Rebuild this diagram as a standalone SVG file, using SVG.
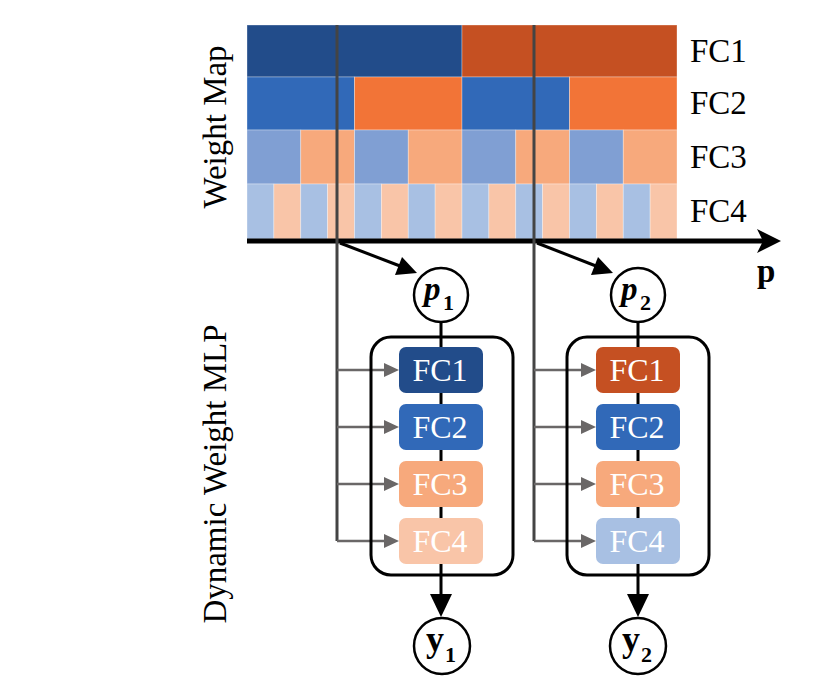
<svg xmlns="http://www.w3.org/2000/svg" width="818" height="687" viewBox="0 0 818 687">
<style>
.lbl{font-family:"Liberation Serif","Times New Roman",serif;fill:#000}
.fc{font-family:"Liberation Serif","Times New Roman",serif;fill:#fff;font-size:32px;text-anchor:middle}
.cell{stroke:#fff;stroke-opacity:0.4;stroke-width:0.8}
.b1{fill:#224C8A}.o1{fill:#C55022}.b2{fill:#3169B8}.o2{fill:#F27437}
.b3{fill:#809FD3}.o3{fill:#F7A97C}.b4{fill:#A8C0E3}.o4{fill:#F9C5A8}
.box{fill:none;stroke:#000;stroke-width:3}
.node{fill:#fff;stroke:#000;stroke-width:2.5}
.blk{stroke:#000;stroke-width:3;fill:none}
.gry{stroke:#6a6767;stroke-width:2.5;fill:none}
.vg{stroke:#444;stroke-width:3;fill:none}
</style>
<rect width="818" height="687" fill="#fff"/>
<g id="heatmap">
<rect class="cell b1" x="247" y="25" width="215" height="52"/>
<rect class="cell o1" x="462" y="25" width="215" height="52"/>
<rect class="cell b2" x="247" y="77" width="107.5" height="53"/>
<rect class="cell o2" x="354.5" y="77" width="107.5" height="53"/>
<rect class="cell b2" x="462" y="77" width="107.5" height="53"/>
<rect class="cell o2" x="569.5" y="77" width="107.5" height="53"/>
<rect class="cell b3" x="247" y="130" width="53.75" height="54"/>
<rect class="cell o3" x="300.75" y="130" width="53.75" height="54"/>
<rect class="cell b3" x="354.5" y="130" width="53.75" height="54"/>
<rect class="cell o3" x="408.25" y="130" width="53.75" height="54"/>
<rect class="cell b3" x="462" y="130" width="53.75" height="54"/>
<rect class="cell o3" x="515.75" y="130" width="53.75" height="54"/>
<rect class="cell b3" x="569.5" y="130" width="53.75" height="54"/>
<rect class="cell o3" x="623.25" y="130" width="53.75" height="54"/>
<rect class="cell b4" x="247" y="184" width="26.875" height="55"/>
<rect class="cell o4" x="273.875" y="184" width="26.875" height="55"/>
<rect class="cell b4" x="300.75" y="184" width="26.875" height="55"/>
<rect class="cell o4" x="327.625" y="184" width="26.875" height="55"/>
<rect class="cell b4" x="354.5" y="184" width="26.875" height="55"/>
<rect class="cell o4" x="381.375" y="184" width="26.875" height="55"/>
<rect class="cell b4" x="408.25" y="184" width="26.875" height="55"/>
<rect class="cell o4" x="435.125" y="184" width="26.875" height="55"/>
<rect class="cell b4" x="462" y="184" width="26.875" height="55"/>
<rect class="cell o4" x="488.875" y="184" width="26.875" height="55"/>
<rect class="cell b4" x="515.75" y="184" width="26.875" height="55"/>
<rect class="cell o4" x="542.625" y="184" width="26.875" height="55"/>
<rect class="cell b4" x="569.5" y="184" width="26.875" height="55"/>
<rect class="cell o4" x="596.375" y="184" width="26.875" height="55"/>
<rect class="cell b4" x="623.25" y="184" width="26.875" height="55"/>
<rect class="cell o4" x="650.125" y="184" width="26.875" height="55"/>
<text class="lbl" x="690" y="62" font-size="33">FC1</text>
<text class="lbl" x="690" y="114" font-size="33">FC2</text>
<text class="lbl" x="690" y="168" font-size="33">FC3</text>
<text class="lbl" x="690" y="222" font-size="33">FC4</text>
</g>
<g id="side-labels">
<text class="lbl" font-size="33" text-anchor="middle" transform="translate(226,127) rotate(-90)">Weight Map</text>
<text class="lbl" font-size="33" text-anchor="middle" transform="translate(226,474) rotate(-90)">Dynamic Weight MLP</text>
</g>
<g id="connectors">
<line x1="247" y1="241" x2="764" y2="241" stroke="#000" stroke-width="5"/>
<polygon points="781,241 757,229 763,241 757,253" fill="#000"/>
<text class="lbl" x="757" y="282" font-size="33" font-weight="bold">p</text>
<path class="vg" d="M337,25 V541"/>
<path class="vg" d="M534,25 V541"/>
<line class="blk" x1="340" y1="243" x2="400" y2="266"/>
<polygon points="417,273 395,275 402,257" fill="#000"/>
<line class="blk" x1="537" y1="243" x2="596" y2="266"/>
<polygon points="613,273 591,275 598,257" fill="#000"/>
<path class="gry" d="M337,370 H386 M337,427 H386 M337,484 H386 M337,541 H386"/>
<path class="gry" d="M534,370 H583 M534,427 H583 M534,484 H583 M534,541 H583"/>
<g fill="#6a6767">
<polygon points="399,370 384,363 384,377"/>
<polygon points="399,427 384,420 384,434"/>
<polygon points="399,484 384,477 384,491"/>
<polygon points="399,541 384,534 384,548"/>
<polygon points="596,370 581,363 581,377"/>
<polygon points="596,427 581,420 581,434"/>
<polygon points="596,484 581,477 581,491"/>
<polygon points="596,541 581,534 581,548"/>
</g>
<path class="blk" d="M441,322 V347 M441,393 V404 M441,450 V461 M441,507 V518 M441,564 V596"/>
<path class="blk" d="M638,322 V347 M638,393 V404 M638,450 V461 M638,507 V518 M638,564 V596"/>
<polygon points="441,617 430,594 452,594" fill="#000"/>
<polygon points="638,617 627,594 649,594" fill="#000"/>
</g>
<g id="mlp1">
<rect class="box" x="371" y="337" width="142" height="238" rx="20"/>
<rect class="b1" x="399" y="347" width="84" height="46" rx="7"/>
<rect class="b2" x="399" y="404" width="84" height="46" rx="7"/>
<rect class="o3" x="399" y="461" width="84" height="46" rx="7"/>
<rect class="o4" x="399" y="518" width="84" height="46" rx="7"/>
<text class="fc" x="440" y="381">FC1</text>
<text class="fc" x="440" y="438">FC2</text>
<text class="fc" x="440" y="495">FC3</text>
<text class="fc" x="440" y="552">FC4</text>
</g>
<g id="mlp2">
<rect class="box" x="567" y="337" width="142" height="238" rx="20"/>
<rect class="o1" x="596" y="347" width="84" height="46" rx="7"/>
<rect class="b2" x="596" y="404" width="84" height="46" rx="7"/>
<rect class="o3" x="596" y="461" width="84" height="46" rx="7"/>
<rect class="b4" x="596" y="518" width="84" height="46" rx="7"/>
<text class="fc" x="637" y="381">FC1</text>
<text class="fc" x="637" y="438">FC2</text>
<text class="fc" x="637" y="495">FC3</text>
<text class="fc" x="637" y="552">FC4</text>
</g>
<g id="p1">
<circle class="node" cx="441" cy="295" r="27"/>
<text class="lbl" x="424" y="300" font-size="33" font-weight="bold" font-style="italic">p</text>
<text class="lbl" x="443" y="310" font-size="22" font-weight="bold">1</text>
</g>
<g id="p2">
<circle class="node" cx="638" cy="295" r="27"/>
<text class="lbl" x="621" y="300" font-size="33" font-weight="bold" font-style="italic">p</text>
<text class="lbl" x="640" y="310" font-size="22" font-weight="bold">2</text>
</g>
<g id="y1">
<circle class="node" cx="442" cy="646" r="28"/>
<text class="lbl" x="426" y="651" font-size="36" font-weight="bold">y</text>
<text class="lbl" x="445" y="662" font-size="22" font-weight="bold">1</text>
</g>
<g id="y2">
<circle class="node" cx="638" cy="646" r="28"/>
<text class="lbl" x="622" y="651" font-size="36" font-weight="bold">y</text>
<text class="lbl" x="641" y="662" font-size="22" font-weight="bold">2</text>
</g>
</svg>
